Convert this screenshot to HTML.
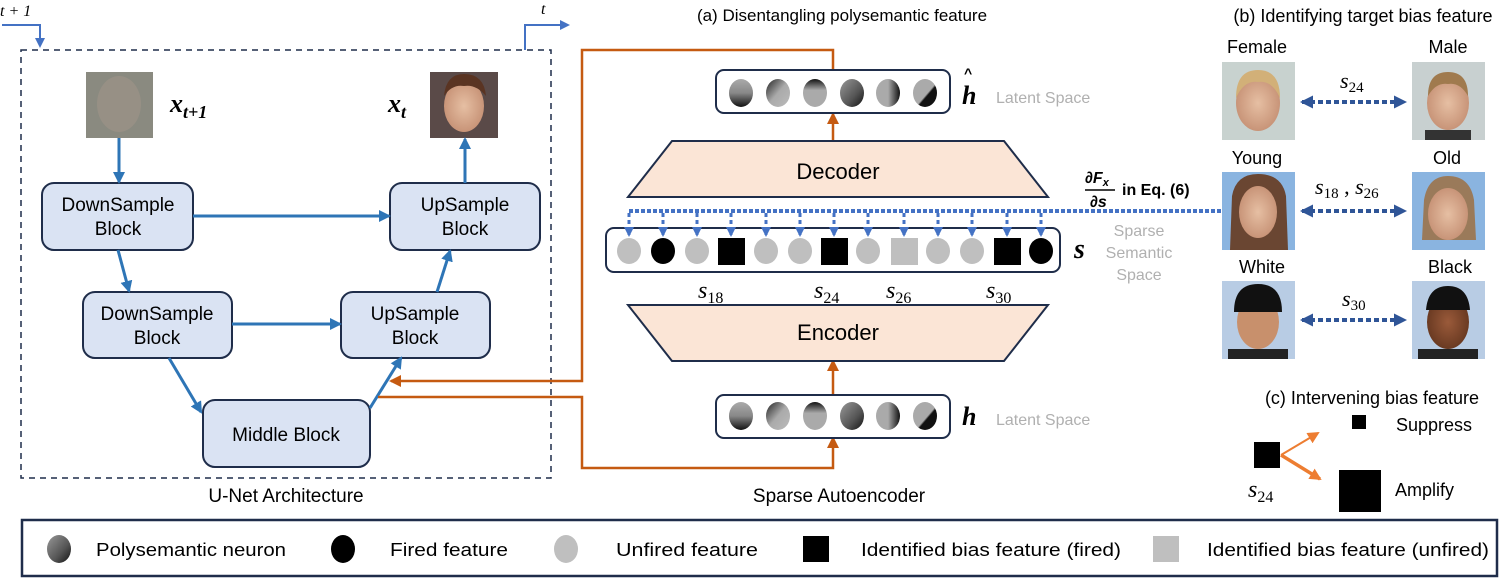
<!DOCTYPE html>
<html><head><meta charset="utf-8"><style>
body{margin:0;background:#fff}
svg{display:block}
text{font-family:"Liberation Sans",sans-serif}
.m{font-family:"Liberation Serif",serif;font-style:italic}
</style></head><body>
<svg width="1504" height="580" viewBox="0 0 1504 580" xmlns="http://www.w3.org/2000/svg">
<defs>
<marker id="ab" markerWidth="12" markerHeight="12" refX="10" refY="6" orient="auto" markerUnits="userSpaceOnUse"><path d="M0,0 L12,6 L0,12z" fill="#2e75b6"/></marker>
<marker id="ao" markerWidth="12" markerHeight="12" refX="10" refY="6" orient="auto" markerUnits="userSpaceOnUse"><path d="M0,0 L12,6 L0,12z" fill="#c55a11"/></marker>
<marker id="ad" markerWidth="10" markerHeight="10" refX="8" refY="5" orient="auto" markerUnits="userSpaceOnUse"><path d="M0,0 L10,5 L0,10z" fill="#4472c4"/></marker>
<marker id="an" markerWidth="13" markerHeight="13" refX="11" refY="6.5" orient="auto-start-reverse" markerUnits="userSpaceOnUse"><path d="M0,0 L13,6.5 L0,13z" fill="#2f5597"/></marker>
<marker id="ac" markerWidth="12" markerHeight="12" refX="10" refY="6" orient="auto" markerUnits="userSpaceOnUse"><path d="M0,0 L12,6 L0,12z" fill="#ed7d31"/></marker>
<linearGradient id="g1" x1="0" y1="0" x2="0" y2="1"><stop offset="0" stop-color="#aaa"/><stop offset=".5" stop-color="#888"/><stop offset="1" stop-color="#111"/></linearGradient>
<linearGradient id="g2" x1="0" y1="0" x2="1" y2="1"><stop offset="0" stop-color="#222"/><stop offset=".5" stop-color="#aaa"/><stop offset="1" stop-color="#bbb"/></linearGradient>
<linearGradient id="g3" x1="0" y1="0" x2="0" y2="1"><stop offset="0" stop-color="#111"/><stop offset=".4" stop-color="#aaa"/><stop offset="1" stop-color="#aaa"/></linearGradient>
<linearGradient id="g4" x1="0" y1="0" x2="1" y2="1"><stop offset="0" stop-color="#999"/><stop offset=".6" stop-color="#555"/><stop offset="1" stop-color="#111"/></linearGradient>
<linearGradient id="g5" x1="0" y1="0" x2="1" y2="0"><stop offset="0" stop-color="#aaa"/><stop offset=".5" stop-color="#aaa"/><stop offset="1" stop-color="#111"/></linearGradient>
<linearGradient id="g6" x1="0" y1="0" x2="1" y2="1"><stop offset="0" stop-color="#aaa"/><stop offset=".55" stop-color="#aaa"/><stop offset=".6" stop-color="#111"/></linearGradient>
<radialGradient id="fs"><stop offset="0" stop-color="#e6bfa3"/><stop offset="1" stop-color="#c89478"/></radialGradient>
<radialGradient id="fd"><stop offset="0" stop-color="#9a5a3a"/><stop offset="1" stop-color="#6a3a22"/></radialGradient>
</defs>

<!-- U-Net -->
<rect x="21" y="50" width="530" height="428" fill="none" stroke="#1f2d4a" stroke-width="1.5" stroke-dasharray="6,5"/>
<text x="0" y="16" class="m" font-size="16">t + 1</text>
<polyline points="2,25 40,25 40,46" fill="none" stroke="#4472c4" stroke-width="2" marker-end="url(#ad)"/>
<text x="541" y="14" class="m" font-size="16">t</text>
<polyline points="525,50 525,25 568,25" fill="none" stroke="#4472c4" stroke-width="2" marker-end="url(#ad)"/>

<rect x="86" y="72" width="67" height="66" fill="#8a8a80"/>
<ellipse cx="119" cy="104" rx="22" ry="28" fill="#9c9388" opacity=".7"/>
<text x="170" y="112" class="m" font-size="26" font-weight="bold">x<tspan font-size="18" dy="6">t+1</tspan></text>
<rect x="430" y="72" width="68" height="66" fill="#5a4a48"/>
<ellipse cx="464" cy="106" rx="20" ry="26" fill="url(#fs)"/>
<path d="M444,96 Q446,74 464,74 Q484,74 486,96 Q476,84 464,86 Q452,84 444,96z" fill="#5a3422"/>
<text x="388" y="112" class="m" font-size="26" font-weight="bold">x<tspan font-size="18" dy="6">t</tspan></text>

<g fill="#dae3f3" stroke="#1f2d4a" stroke-width="2">
<rect x="42" y="183" width="151" height="67" rx="12"/>
<rect x="390" y="183" width="150" height="67" rx="12"/>
<rect x="83" y="292" width="149" height="66" rx="12"/>
<rect x="341" y="292" width="149" height="66" rx="12"/>
<rect x="203" y="400" width="167" height="67" rx="12"/>
</g>
<g font-size="19" text-anchor="middle" fill="#000">
<text x="118" y="211">DownSample</text><text x="118" y="235">Block</text>
<text x="465" y="211">UpSample</text><text x="465" y="235">Block</text>
<text x="157" y="320">DownSample</text><text x="157" y="344">Block</text>
<text x="415" y="320">UpSample</text><text x="415" y="344">Block</text>
<text x="286" y="441">Middle Block</text>
</g>
<g stroke="#2e75b6" stroke-width="3" fill="none" marker-end="url(#ab)">
<line x1="119" y1="138" x2="119" y2="182"/>
<line x1="193" y1="216" x2="389" y2="216"/>
<line x1="465" y1="183" x2="465" y2="139"/>
<line x1="118" y1="250" x2="129" y2="291"/>
<line x1="232" y1="324" x2="340" y2="324"/>
<line x1="169" y1="358" x2="201" y2="412"/>
<line x1="437" y1="292" x2="450" y2="251"/>
<line x1="370" y1="408" x2="401" y2="358"/>
</g>
<text x="286" y="502" font-size="19" text-anchor="middle">U-Net Architecture</text>

<!-- orange -->
<g stroke="#c55a11" stroke-width="2.5" fill="none">
<polyline points="833,70 833,50 582,50 582,381 391,381" marker-end="url(#ao)"/>
<polyline points="378,397 582,397 582,468 833,468 833,438" marker-end="url(#ao)"/>
<line x1="833" y1="141" x2="833" y2="114" marker-end="url(#ao)"/>
<line x1="833" y1="395" x2="833" y2="361" marker-end="url(#ao)"/>
</g>

<!-- SAE -->
<text x="842" y="21" font-size="17" text-anchor="middle">(a) Disentangling polysemantic feature</text>
<rect x="716" y="70" width="234" height="43" rx="8" fill="#fff" stroke="#1f2d4a" stroke-width="2"/>
<g><ellipse cx="741" cy="93" rx="12" ry="14" fill="url(#g1)"/><ellipse cx="778" cy="93" rx="12" ry="14" fill="url(#g2)"/><ellipse cx="815" cy="93" rx="12" ry="14" fill="url(#g3)"/><ellipse cx="852" cy="93" rx="12" ry="14" fill="url(#g4)"/><ellipse cx="888" cy="93" rx="12" ry="14" fill="url(#g5)"/><ellipse cx="925" cy="93" rx="12" ry="14" fill="url(#g6)"/></g>
<text x="962" y="104" class="m" font-size="26" font-weight="bold">h</text>
<text x="964" y="78" font-size="14" font-weight="bold">^</text>
<text x="996" y="103" font-size="16" fill="#b0b0b0">Latent Space</text>

<rect x="716" y="395" width="234" height="43" rx="8" fill="#fff" stroke="#1f2d4a" stroke-width="2"/>
<g><ellipse cx="741" cy="416" rx="12" ry="14" fill="url(#g1)"/><ellipse cx="778" cy="416" rx="12" ry="14" fill="url(#g2)"/><ellipse cx="815" cy="416" rx="12" ry="14" fill="url(#g3)"/><ellipse cx="852" cy="416" rx="12" ry="14" fill="url(#g4)"/><ellipse cx="888" cy="416" rx="12" ry="14" fill="url(#g5)"/><ellipse cx="925" cy="416" rx="12" ry="14" fill="url(#g6)"/></g>
<text x="962" y="425" class="m" font-size="26" font-weight="bold">h</text>
<text x="996" y="425" font-size="16" fill="#b0b0b0">Latent Space</text>

<polygon points="672,141 1004,141 1048,197 628,197" fill="#fbe5d6" stroke="#1f2d4a" stroke-width="2"/>
<text x="838" y="179" font-size="22" text-anchor="middle">Decoder</text>
<polygon points="628,305 1048,305 1004,361 672,361" fill="#fbe5d6" stroke="#1f2d4a" stroke-width="2"/>
<text x="838" y="340" font-size="22" text-anchor="middle">Encoder</text>

<rect x="606" y="228" width="454" height="44" rx="8" fill="#fff" stroke="#1f2d4a" stroke-width="2"/>
<line x1="629" y1="211" x2="1222" y2="211" stroke="#4472c4" stroke-width="4" stroke-dasharray="4,2"/>
<g stroke="#4472c4" stroke-width="3" stroke-dasharray="4,3" marker-end="url(#ad)">
<line x1="629" y1="213" x2="629" y2="235"/><line x1="663" y1="213" x2="663" y2="235"/><line x1="697" y1="213" x2="697" y2="235"/><line x1="731" y1="213" x2="731" y2="235"/><line x1="766" y1="213" x2="766" y2="235"/><line x1="800" y1="213" x2="800" y2="235"/><line x1="834" y1="213" x2="834" y2="235"/><line x1="868" y1="213" x2="868" y2="235"/><line x1="904" y1="213" x2="904" y2="235"/><line x1="938" y1="213" x2="938" y2="235"/><line x1="972" y1="213" x2="972" y2="235"/><line x1="1007" y1="213" x2="1007" y2="235"/><line x1="1041" y1="213" x2="1041" y2="235"/>
</g>
<g>
<ellipse cx="629" cy="251" rx="12" ry="13" fill="#bfbfbf"/>
<ellipse cx="663" cy="251" rx="12" ry="13" fill="#000"/>
<ellipse cx="697" cy="251" rx="12" ry="13" fill="#bfbfbf"/>
<rect x="718" y="238" width="27" height="27" fill="#000"/>
<ellipse cx="766" cy="251" rx="12" ry="13" fill="#bfbfbf"/>
<ellipse cx="800" cy="251" rx="12" ry="13" fill="#bfbfbf"/>
<rect x="821" y="238" width="27" height="27" fill="#000"/>
<ellipse cx="868" cy="251" rx="12" ry="13" fill="#bfbfbf"/>
<rect x="891" y="238" width="27" height="27" fill="#bfbfbf"/>
<ellipse cx="938" cy="251" rx="12" ry="13" fill="#bfbfbf"/>
<ellipse cx="972" cy="251" rx="12" ry="13" fill="#bfbfbf"/>
<rect x="994" y="238" width="27" height="27" fill="#000"/>
<ellipse cx="1041" cy="251" rx="12" ry="13" fill="#000"/>
</g>
<text x="1074" y="258" class="m" font-size="28" font-weight="bold">s</text>
<g font-size="16" fill="#b0b0b0" text-anchor="middle"><text x="1139" y="236">Sparse</text><text x="1139" y="258">Semantic</text><text x="1139" y="280">Space</text></g>
<g font-size="24"><text x="698" y="298" class="m">s<tspan font-size="16" dy="5" font-style="normal">18</tspan></text><text x="814" y="298" class="m">s<tspan font-size="16" dy="5" font-style="normal">24</tspan></text><text x="886" y="298" class="m">s<tspan font-size="16" dy="5" font-style="normal">26</tspan></text><text x="986" y="298" class="m">s<tspan font-size="16" dy="5" font-style="normal">30</tspan></text></g>

<g font-weight="bold" font-size="16">
<text x="1085" y="183" font-family="Liberation Serif,serif">∂<tspan font-style="italic">F</tspan><tspan font-size="11" font-style="italic" dy="3">x</tspan></text>
<line x1="1085" y1="190" x2="1115" y2="190" stroke="#000" stroke-width="1.5"/>
<text x="1090" y="207" font-family="Liberation Serif,serif">∂<tspan font-style="italic">s</tspan></text>
<text x="1122" y="195" font-family="Liberation Serif,serif">in Eq. (6)</text>
</g>
<text x="839" y="502" font-size="19" text-anchor="middle">Sparse Autoencoder</text>

<!-- (b) -->
<text x="1363" y="22" font-size="18" text-anchor="middle">(b) Identifying target bias feature</text>
<g font-size="18" text-anchor="middle">
<text x="1257" y="53">Female</text><text x="1448" y="53">Male</text>
<text x="1257" y="164">Young</text><text x="1447" y="164">Old</text>
<text x="1262" y="273">White</text><text x="1450" y="273">Black</text>
</g>
<rect x="1222" y="62" width="73" height="78" fill="#c8d2cf"/><ellipse cx="1258" cy="103" rx="22" ry="28" fill="url(#fs)"/><path d="M1236,98 Q1236,70 1258,70 Q1280,70 1280,98 Q1272,80 1258,82 Q1244,80 1236,98z" fill="#d2b078"/>
<rect x="1412" y="62" width="73" height="78" fill="#c8d0d0"/><ellipse cx="1448" cy="103" rx="21" ry="27" fill="url(#fs)"/><path d="M1428,96 Q1428,72 1448,72 Q1468,72 1468,96 Q1460,82 1448,84 Q1436,82 1428,96z" fill="#a07a4e"/><rect x="1425" y="130" width="46" height="10" fill="#333"/>
<rect x="1222" y="172" width="73" height="78" fill="#8ab4e0"/><path d="M1230,250 L1232,196 Q1236,174 1258,174 Q1282,174 1286,196 L1288,250z" fill="#6a4632"/><ellipse cx="1258" cy="212" rx="19" ry="26" fill="url(#fs)"/>
<rect x="1412" y="172" width="73" height="78" fill="#8ab4e0"/><path d="M1422,240 L1424,200 Q1428,176 1448,176 Q1470,176 1474,200 L1476,240z" fill="#9a7a5a"/><ellipse cx="1448" cy="214" rx="20" ry="26" fill="url(#fs)"/>
<rect x="1222" y="281" width="73" height="78" fill="#b8cce4"/><ellipse cx="1258" cy="322" rx="21" ry="27" fill="#c8906c"/><path d="M1234,312 Q1234,284 1258,284 Q1282,284 1282,312z" fill="#111"/><rect x="1228" y="349" width="60" height="10" fill="#222"/>
<rect x="1412" y="281" width="73" height="78" fill="#b8cce4"/><ellipse cx="1448" cy="322" rx="21" ry="27" fill="url(#fd)"/><path d="M1426,310 Q1428,286 1448,286 Q1468,286 1470,310z" fill="#111"/><rect x="1418" y="349" width="60" height="10" fill="#222"/>
<g stroke="#2f5597" stroke-width="4" stroke-dasharray="5,3" marker-start="url(#an)" marker-end="url(#an)">
<line x1="1302" y1="102" x2="1405" y2="102"/>
<line x1="1302" y1="211" x2="1405" y2="211"/>
<line x1="1302" y1="320" x2="1405" y2="320"/>
</g>
<g font-size="22">
<text x="1340" y="88" class="m">s<tspan font-size="15" dy="4" font-style="normal">24</tspan></text>
<text x="1315" y="194" class="m">s<tspan font-size="15" dy="4" font-style="normal">18</tspan><tspan dy="-4" font-style="normal"> , </tspan>s<tspan font-size="15" dy="4" font-style="normal">26</tspan></text>
<text x="1342" y="306" class="m">s<tspan font-size="15" dy="4" font-style="normal">30</tspan></text>
</g>

<!-- (c) -->
<text x="1372" y="404" font-size="18" text-anchor="middle">(c) Intervening bias feature</text>
<rect x="1254" y="442" width="26" height="26" fill="#000"/>
<rect x="1352" y="415" width="14" height="14" fill="#000"/>
<rect x="1339" y="470" width="42" height="42" fill="#000"/>
<text x="1396" y="431" font-size="18">Suppress</text>
<text x="1395" y="496" font-size="18">Amplify</text>
<text x="1248" y="497" class="m" font-size="24">s<tspan font-size="16" dy="5" font-style="normal">24</tspan></text>
<line x1="1281" y1="455" x2="1318" y2="433" stroke="#ed7d31" stroke-width="2" marker-end="url(#ac)"/>
<line x1="1281" y1="455" x2="1320" y2="479" stroke="#ed7d31" stroke-width="3.5" marker-end="url(#ac)"/>

<!-- legend -->
<rect x="22" y="520" width="1475" height="56" fill="#fff" stroke="#1f2d4a" stroke-width="2.5"/>
<ellipse cx="59" cy="549" rx="12" ry="14" fill="url(#g4)"/>
<ellipse cx="343" cy="549" rx="12" ry="14" fill="#000"/>
<ellipse cx="566" cy="549" rx="12" ry="14" fill="#bfbfbf"/>
<rect x="803" y="536" width="26" height="26" fill="#000"/>
<rect x="1153" y="536" width="26" height="26" fill="#bfbfbf"/>
<g font-size="18">
<text x="96" y="556" textLength="190" lengthAdjust="spacingAndGlyphs">Polysemantic neuron</text>
<text x="390" y="556" textLength="118" lengthAdjust="spacingAndGlyphs">Fired feature</text>
<text x="616" y="556" textLength="142" lengthAdjust="spacingAndGlyphs">Unfired feature</text>
<text x="861" y="556" textLength="260" lengthAdjust="spacingAndGlyphs">Identified bias feature (fired)</text>
<text x="1207" y="556" textLength="282" lengthAdjust="spacingAndGlyphs">Identified bias feature (unfired)</text>
</g>
</svg>
</body></html>
